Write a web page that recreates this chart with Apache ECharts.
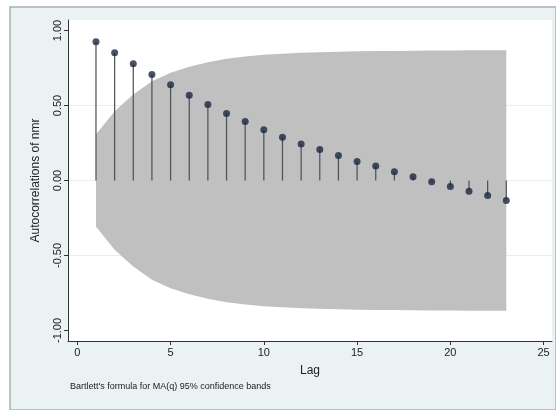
<!DOCTYPE html>
<html><head><meta charset="utf-8">
<script src="https://cdn.jsdelivr.net/npm/echarts@6/dist/echarts.min.js"></script>
<style>html,body{margin:0;padding:0;background:#fff}#c{width:556px;height:410px}</style>
</head><body><div id="c"></div>
<script>
var lags = [1,2,3,4,5,6,7,8,9,10,11,12,13,14,15,16,17,18,19,20,21,22,23];
var acValues = [0.925,0.851,0.778,0.707,0.638,0.569,0.507,0.447,0.393,0.338,0.289,0.244,0.207,0.167,0.127,0.096,0.058,0.025,-0.009,-0.040,-0.071,-0.100,-0.133];
var bandUpper = [0.307,0.462,0.573,0.662,0.718,0.758,0.789,0.811,0.827,0.838,0.845,0.851,0.855,0.858,0.861,0.863,0.864,0.865,0.866,0.867,0.868,0.868,0.869];
var bandLower = [-0.307,-0.462,-0.573,-0.662,-0.718,-0.758,-0.789,-0.811,-0.827,-0.838,-0.845,-0.851,-0.855,-0.858,-0.861,-0.863,-0.864,-0.865,-0.866,-0.867,-0.868,-0.868,-0.869];
var xTicks = [0,5,10,15,20,25];
var yTicks = [-1,-0.5,0,0.5,1];
var gridValues = [-0.5,0,0.5];

var font = 'Liberation Sans, Arial, sans-serif';
var chart = echarts.init(document.getElementById('c'), null, {renderer:'canvas'});
var stemData = lags.map(function(l,i){return [l, acValues[i]];});
var bandData = lags.map(function(l,i){return [l, bandLower[i], bandUpper[i]];});

chart.setOption({
  animation:false,
  backgroundColor:'#ffffff',
  graphic:[
    {type:'rect', z:-10, shape:{x:10,y:7,width:546,height:403}, style:{fill:'#EAF2F3', stroke:'#A9B0B3', lineWidth:1.5}},
    {type:'text', left:70, top:382, style:{text:"Bartlett's formula for MA(q) 95% confidence bands", font:'9px '+font, fill:'#222'}}
  ],
  grid:{left:68, top:20, right:4, bottom:69, show:true, backgroundColor:'#ffffff', borderWidth:0},
  xAxis:{
    type:'value', min:-0.5, max:25.45,
    name:'Lag', nameLocation:'middle', nameGap:24,
    nameTextStyle:{fontFamily:font, fontSize:12, color:'#222'},
    axisLine:{show:true, onZero:false, lineStyle:{color:'#333', width:1}},
    axisTick:{show:true, length:4, customValues:xTicks, lineStyle:{color:'#333'}},
    axisLabel:{customValues:xTicks, margin:6, fontFamily:font, fontSize:11, color:'#222'},
    splitLine:{show:false}
  },
  yAxis:{
    type:'value', min:-1.07, max:1.07,
    name:'Autocorrelations of nmr', nameLocation:'middle', nameGap:26, nameRotate:90,
    nameTextStyle:{fontFamily:font, fontSize:12, color:'#222'},
    axisLine:{show:true, onZero:false, lineStyle:{color:'#333', width:1}},
    axisTick:{show:true, length:4, customValues:yTicks, lineStyle:{color:'#333'}},
    axisLabel:{customValues:yTicks, rotate:90, margin:5, fontFamily:font, fontSize:11, color:'#222',
      formatter:function(v){return v.toFixed(2);}},
    splitLine:{show:false}
  },
  series:[
    {
      type:'line', silent:true, data:[], symbol:'none', z:0,
      markLine:{silent:true, symbol:'none', z:0, label:{show:false},
        lineStyle:{color:'#E6EEF0', width:1, type:'solid'},
        data:gridValues.map(function(v){return {yAxis:v};})}
    },
    {
      type:'custom', z:2, silent:true,
      data:bandData,
      renderItem:function(params, api){
        if (params.dataIndex !== 0) return null;
        var pts = [];
        for (var i=0;i<bandData.length;i++) pts.push(api.coord([bandData[i][0], bandData[i][2]]));
        for (var j=bandData.length-1;j>=0;j--) pts.push(api.coord([bandData[j][0], bandData[j][1]]));
        return {type:'polygon', shape:{points:pts}, style:{fill:'#C0C0C0', stroke:null}};
      },
      encode:{x:0, y:[1,2]}
    },
    {
      type:'custom', z:3, silent:true,
      data:stemData,
      renderItem:function(params, api){
        var p0 = api.coord([api.value(0), 0]);
        var p1 = api.coord([api.value(0), api.value(1)]);
        return {type:'line', shape:{x1:p0[0], y1:p0[1], x2:p1[0], y2:p1[1]},
          style:{stroke:'#4a4f58', lineWidth:1.2}};
      },
      encode:{x:0, y:1}
    },
    {
      type:'scatter', z:4, silent:true,
      data:stemData, symbol:'circle', symbolSize:7,
      itemStyle:{color:'#1c2841'}
    }
  ]
});
</script></body></html>
